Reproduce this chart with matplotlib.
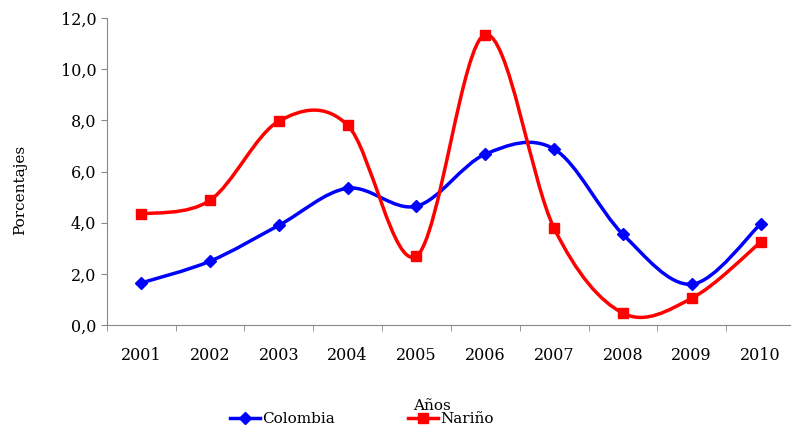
import numpy as np
import matplotlib
matplotlib.use("Agg")
import matplotlib.pyplot as plt
from matplotlib.path import Path
from matplotlib.patches import PathPatch

plt.rcParams['font.family'] = ['DejaVu Serif']

years = ['2001', '2002', '2003', '2004', '2005', '2006', '2007', '2008', '2009', '2010']
colombia = [1.65, 2.5, 3.9, 5.35, 4.65, 6.68, 6.88, 3.55, 1.6, 3.95]
narino = [4.34, 4.88, 7.97, 7.81, 2.7, 11.35, 3.79, 0.47, 1.05, 3.24]


def smooth_path(x, y):
    # Excel style smoothed line: cubic bezier through points (Catmull-Rom)
    x = np.asarray(x, float)
    y = np.asarray(y, float)
    pts = np.column_stack([x, y])
    verts = [pts[0]]
    codes = [Path.MOVETO]
    n = len(pts)
    for i in range(n - 1):
        p0 = pts[i - 1] if i > 0 else pts[i]
        p1 = pts[i]
        p2 = pts[i + 1]
        p3 = pts[i + 2] if i + 2 < n else pts[i + 1]
        c1 = p1 + (p2 - p0) / 6.0
        c2 = p2 - (p3 - p1) / 6.0
        verts += [c1, c2, p2]
        codes += [Path.CURVE4] * 3
    return Path(verts, codes)


fig = plt.figure(figsize=(7.91, 4.29), dpi=100)
ax = fig.add_axes([0.135, 0.242, 0.870, 0.716])

x = np.arange(1, len(years) + 1)

for vals, col, mk, ms, lab in [(colombia, '#0000ff', 'D', 6, 'Colombia'),
                               (narino, '#ff0000', 's', 7, 'Nariño')]:
    ax.add_patch(PathPatch(smooth_path(x, vals), facecolor='none', edgecolor=col, lw=2.5, zorder=2))
    ax.plot(x, vals, ls='none', marker=mk, ms=ms, color=col, zorder=3)
    ax.plot([], [], color=col, lw=2.5, marker=mk, ms=ms, label=lab)

ax.set_xlim(0.5, len(years) + 0.5)
ax.set_ylim(0, 12)
ax.set_yticks(np.arange(0, 12.1, 2))
ax.set_yticklabels([f"{v:.1f}".replace('.', ',') for v in np.arange(0, 12.1, 2)])
ax.set_xticks(x)
ax.set_xticklabels(years)
ax.set_xticks(np.arange(0.5, len(years) + 1, 1), minor=True)
ax.tick_params(axis='x', which='major', length=0, pad=16, labelsize=11.5)
ax.tick_params(axis='x', which='minor', length=4, color='#888888')
ax.tick_params(axis='y', length=4, color='#888888', labelsize=11.5)

for s in ['top', 'right']:
    ax.spines[s].set_visible(False)
for s in ['left', 'bottom']:
    ax.spines[s].set_color('#888888')

ax.set_ylabel('Porcentajes', fontsize=11)
ax.yaxis.set_label_coords(-0.115, 0.44)
fig.text(0.546, 0.045, 'Años', ha='center', fontsize=11)
fig.legend(loc='lower center', bbox_to_anchor=(0.457, -0.025), ncol=2, frameon=False,
           fontsize=11, columnspacing=4.8, handlelength=2.0, handletextpad=0.1)

fig.savefig('out.png', dpi=100)
